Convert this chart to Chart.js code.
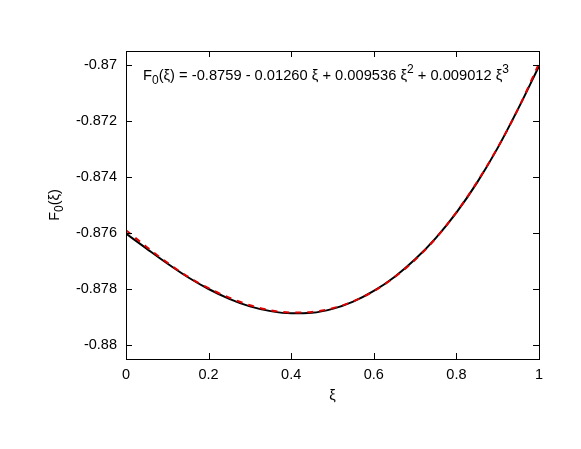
<!DOCTYPE html>
<html>
<head>
<meta charset="utf-8">
<script src="https://cdn.jsdelivr.net/npm/chart.js@4.4.1/dist/chart.umd.min.js"></script>
<style>
  html, body { margin: 0; padding: 0; background: #fff; }
  #wrap { width: 581px; height: 449px; }
</style>
</head>
<body>
<div id="wrap"><canvas id="chart" width="581" height="449"></canvas></div>
<script>
// ── Data
const xi      = [0, 0.05, 0.1, 0.15, 0.2, 0.25, 0.3, 0.35, 0.4, 0.45, 0.5,
                 0.55, 0.6, 0.65, 0.7, 0.75, 0.8, 0.85, 0.9, 0.95, 1.0];
const f0Data  = [-0.87602, -0.87656, -0.87709, -0.87758, -0.87800, -0.87835, -0.87862,
                 -0.87879, -0.87887, -0.87885, -0.87871, -0.87845, -0.87807, -0.87757,
                 -0.87694, -0.87618, -0.87527, -0.87420, -0.87296, -0.87155, -0.87004];
const f0Fit   = [-0.87590, -0.87650, -0.87706, -0.87756, -0.87797, -0.87831, -0.87858,
                 -0.87876, -0.87884, -0.87882, -0.87869, -0.87844, -0.87808, -0.87758,
                 -0.87696, -0.87619, -0.87526, -0.87418, -0.87295, -0.87155, -0.86995];
const xTicks  = [0, 0.2, 0.4, 0.6, 0.8, 1];
const xLabels = ['0', '0.2', '0.4', '0.6', '0.8', '1'];
const yTicks  = [-0.88, -0.878, -0.876, -0.874, -0.872, -0.87];
const yLabels = ['-0.88', '-0.878', '-0.876', '-0.874', '-0.872', '-0.87'];

const FONT = '"Liberation Sans", Arial, sans-serif';

// draws a run of text pieces, some as sub/superscripts; returns width
function drawRich(ctx, parts, x, y, size, measureOnly) {
  let cx = x;
  parts.forEach(p => {
    const small = p.sub || p.sup;
    ctx.font = (small ? Math.round(size * 0.8) : size) + 'px ' + FONT;
    const dy = p.sub ? size * 0.3 : p.sup ? -size * 0.45 : 0;
    if (!measureOnly) ctx.fillText(p.t, cx, y + dy);
    cx += ctx.measureText(p.t).width;
  });
  return cx - x;
}

// ── Frame with inward ticks, gnuplot style
const framePlugin = {
  id: 'frame',
  afterDatasetsDraw(chart) {
    const { ctx, chartArea: a, scales: { x, y } } = chart;
    const t = 6;
    ctx.save();
    ctx.strokeStyle = '#000';
    ctx.lineWidth = 1;
    ctx.beginPath();
    xTicks.forEach(v => {
      const px = Math.round(x.getPixelForValue(v)) + 0.5;
      ctx.moveTo(px, a.bottom); ctx.lineTo(px, a.bottom - t);
      ctx.moveTo(px, a.top);    ctx.lineTo(px, a.top + t);
    });
    yTicks.forEach(v => {
      const py = Math.round(y.getPixelForValue(v)) + 0.5;
      ctx.moveTo(a.left, py);  ctx.lineTo(a.left + t, py);
      ctx.moveTo(a.right, py); ctx.lineTo(a.right - t, py);
    });
    ctx.stroke();
    ctx.strokeRect(Math.round(a.left) + 0.5, Math.round(a.top) + 0.5,
                   Math.round(a.right - a.left), Math.round(a.bottom - a.top));

    // fit formula
    ctx.fillStyle = '#000';
    ctx.textBaseline = 'alphabetic';
    ctx.textAlign = 'left';
    drawRich(ctx, [
      { t: 'F' }, { t: '0', sub: true },
      { t: '(ξ) = -0.8759 - 0.01260 ξ + 0.009536 ξ' }, { t: '2', sup: true },
      { t: ' + 0.009012 ξ' }, { t: '3', sup: true }
    ], 143, 80, 14.7);

    // y axis title, rotated
    const yParts = [{ t: 'F' }, { t: '0', sub: true }, { t: '(ξ)' }];
    const w = drawRich(ctx, yParts, 0, 0, 14.5, true);
    ctx.translate(59, (a.top + a.bottom) / 2);
    ctx.rotate(-Math.PI / 2);
    drawRich(ctx, yParts, -w / 2, 0, 14.5);
    ctx.restore();
  }
};

new Chart(document.getElementById('chart'), {
  type: 'line',
  data: {
    datasets: [
      { label: 'F0 data', data: xi.map((v, i) => ({ x: v, y: f0Data[i] })),
        borderColor: '#000', borderWidth: 2, pointRadius: 0,
        cubicInterpolationMode: 'monotone', order: 1 },
      { label: 'F0 fit', data: xi.map((v, i) => ({ x: v, y: f0Fit[i] })),
        borderColor: '#e00000', borderWidth: 2, borderDash: [6, 6], pointRadius: 0,
        cubicInterpolationMode: 'monotone', order: 0 }
    ]
  },
  options: {
    responsive: false,
    animation: false,
    layout: { padding: { top: 51, right: 42, left: 0, bottom: 0 } },
    plugins: { legend: { display: false }, tooltip: { enabled: false } },
    scales: {
      x: {
        type: 'linear', min: 0, max: 1,
        afterBuildTicks: s => { s.ticks = xTicks.map(v => ({ value: v })); },
        afterFit: s => { s.height = 90; },
        grid: { display: false, drawTicks: false },
        border: { display: false },
        ticks: { padding: 7, color: '#000', font: { family: FONT, size: 14.5 },
                 maxRotation: 0, callback: (v) => xLabels[xTicks.indexOf(v)] ?? '' },
        title: { display: true, text: 'ξ', color: '#000',
                 font: { family: FONT, size: 14.5 }, padding: { top: 0, bottom: 44 } }
      },
      y: {
        type: 'linear', min: -0.8805, max: -0.8695,
        afterBuildTicks: s => { s.ticks = yTicks.map(v => ({ value: v })); },
        afterFit: s => { s.width = 126; },
        grid: { display: false, drawTicks: false },
        border: { display: false },
        ticks: { padding: 9, color: '#000', font: { family: FONT, size: 14.5 },
                 callback: (v) => yLabels[yTicks.findIndex(t => Math.abs(t - v) < 1e-9)] ?? '' }
      }
    }
  },
  plugins: [framePlugin]
});
</script>
</body>
</html>
